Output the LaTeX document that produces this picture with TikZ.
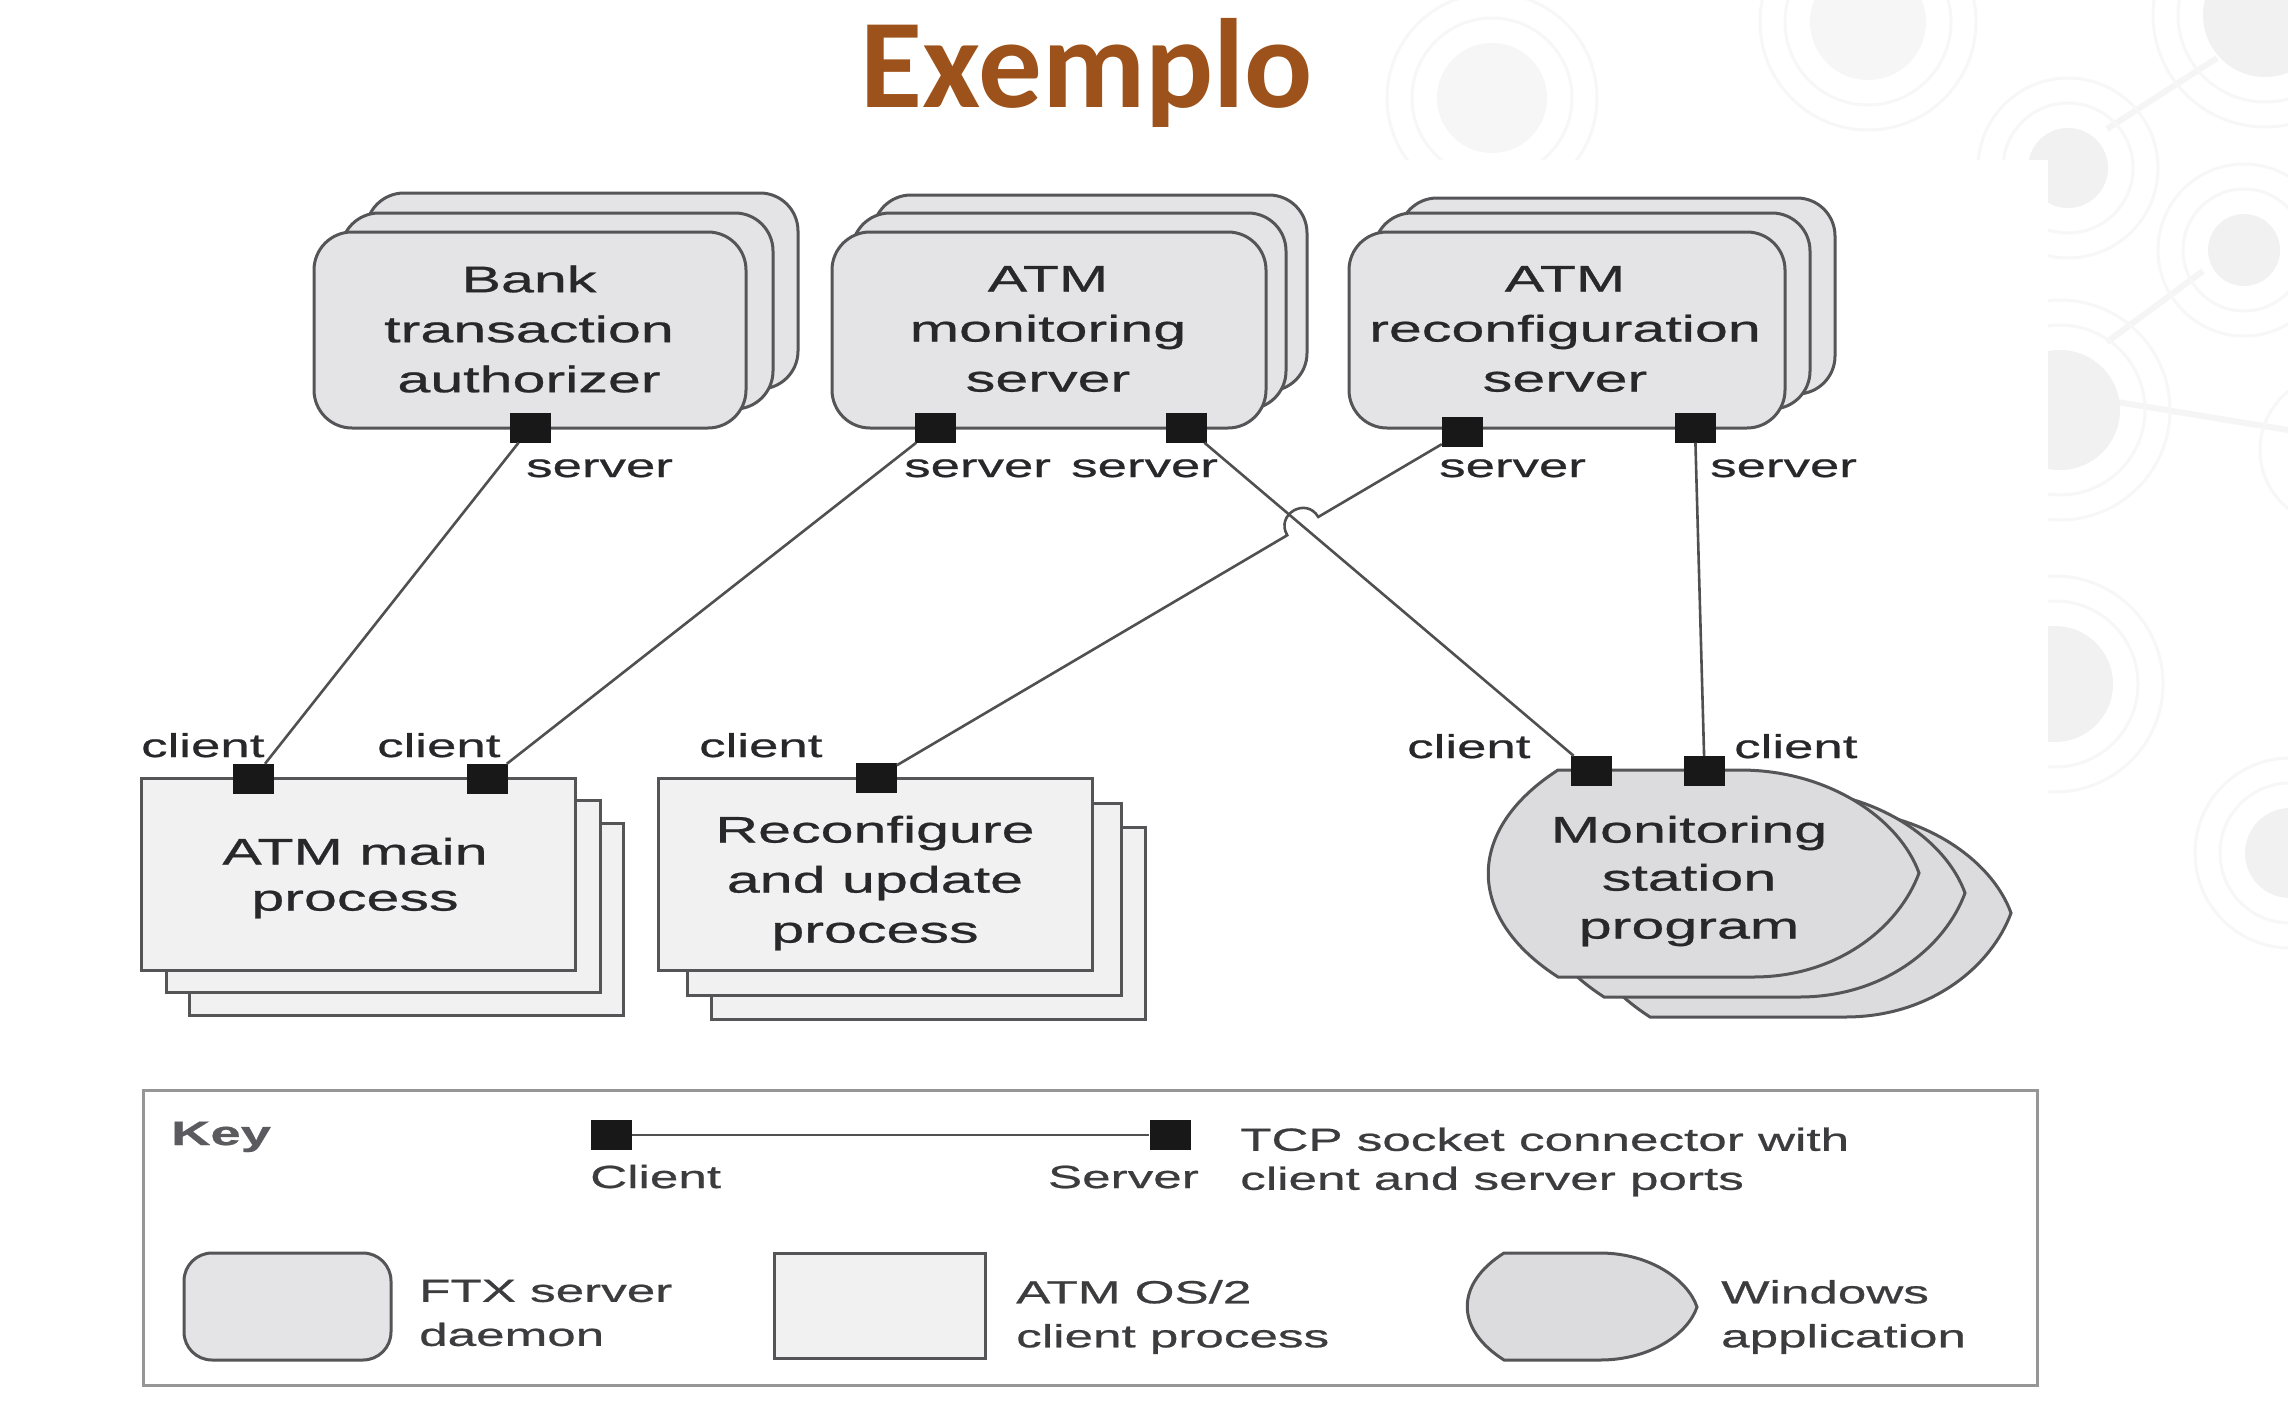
\documentclass[tikz,border=0pt]{standalone}
\usepackage{fontspec}
\usetikzlibrary{calc}
\newfontfamily\hv[FakeStretch=1.6,FakeBold=0.7]{Liberation Sans}
\newfontfamily\ttlfont{Carlito}
\definecolor{titleC}{RGB}{156,82,26}
\definecolor{edgeC}{RGB}{85,85,88}
\definecolor{lineC}{RGB}{80,80,80}
\definecolor{srvF}{RGB}{228,228,231}
\definecolor{cliF}{RGB}{241,241,241}
\definecolor{winF}{RGB}{220,220,223}
\definecolor{portC}{RGB}{24,24,24}
\definecolor{txtC}{RGB}{40,40,43}
\definecolor{legT}{RGB}{60,60,62}
\definecolor{keyC}{RGB}{150,150,150}
\definecolor{keyT}{RGB}{90,90,95}
\definecolor{bgF}{RGB}{241,241,241}
\definecolor{bgFa}{RGB}{246,246,246}
\definecolor{bgR}{RGB}{247,247,247}
\definecolor{bgL}{RGB}{245,245,245}
\begin{document}
\begin{tikzpicture}[x=1pt,y=-1pt,
 conn/.style={draw=lineC, line width=2.6pt},
 srvbox/.style={draw=edgeC, line width=3pt, fill=srvF, rounded corners=38pt},
 clibox/.style={draw=edgeC, line width=3pt, fill=cliF},
 winbox/.style={draw=edgeC, line width=3pt, fill=winF},
 portbox/.style={fill=portC, inner sep=0pt, minimum width=41pt, minimum height=30pt},
 plbl/.style={font=\hv\fontsize{33}{40}\selectfont, text=txtC, inner sep=0pt, anchor=base west},
 btxt/.style={font=\hv\fontsize{37}{50}\selectfont, text=txtC, inner sep=0pt, align=center},
 ktxt/.style={font=\hv\fontsize{32}{44}\selectfont, text=legT, inner sep=0pt, align=left, anchor=west},
 bgring/.style={draw=bgR, line width=3pt},
 bgline/.style={draw=bgL, line width=6pt}]
\useasboundingbox (0,0) rectangle (2288,1414);
\fill[white] (0,0) rectangle (2288,1414);
% faint background pattern
\draw[bgline] (2107,129) -- (2217,58);
\draw[bgline] (2203,271) -- (2107,342);
\draw[bgline] (2105,400) -- (2288,430);
\foreach \cx/\cy/\r/\cf in {1492/98/55/bgFa, 1868/22/58/bgFa, 2265/15/62/bgF, 2068/168/40/bgF, 2244/250/36/bgF, 2060/410/60/bgF, 2055/684/58/bgF, 2290/853/45/bgF}{
  \fill[\cf] (\cx,\cy) circle[radius=\r];
  \draw[bgring] (\cx,\cy) circle[radius=\r+25];
  \draw[bgring] (\cx,\cy) circle[radius=\r+50];
}
\draw[bgring] (2335,450) circle[radius=75];
\fill[white] (0,160) rectangle (2048,1414);
% title
\node[font=\ttlfont\bfseries\fontsize{127}{140}\selectfont, text=titleC, anchor=base, inner sep=0pt] (title) at (1087,107) {Exemplo};
% top server boxes (stacked)
\draw[srvbox] (366,193) rectangle (798,389);
\draw[srvbox] (341,213) rectangle (773,409);
\node[srvbox, minimum width=432pt, minimum height=196pt] (bta) at (530,330) {};
\draw[srvbox] (873,195) rectangle (1307,391);
\draw[srvbox] (852,213) rectangle (1286,409);
\node[srvbox, minimum width=434pt, minimum height=196pt] (ams) at (1049,330) {};
\draw[srvbox] (1399,198) rectangle (1835,394);
\draw[srvbox] (1374,213) rectangle (1810,409);
\node[srvbox, minimum width=436pt, minimum height=196pt] (ars) at (1567,330) {};
\node[btxt] (bta-t) at (529,329) {Bank\\transaction\\authorizer};
\node[btxt] (ams-t) at (1048,329) {ATM\\monitoring\\server};
\node[btxt] (ars-t) at (1565,329) {ATM\\reconfiguration\\server};
% bottom client boxes
\draw[clibox] (189,823) rectangle (623,1015);
\draw[clibox] (166,800) rectangle (600,992);
\node[clibox, minimum width=434pt, minimum height=192pt] (amp) at (358,874) {};
\draw[clibox] (711,827) rectangle (1145,1019);
\draw[clibox] (687,803) rectangle (1121,995);
\node[clibox, minimum width=434pt, minimum height=192pt] (rup) at (875,874) {};
\node[btxt, font=\hv\fontsize{37}{46}\selectfont] (amp-t) at (355,878) {ATM main\\process};
\node[btxt] (rup-t) at (875,883) {Reconfigure\\and update\\process};
% windows application (stacked)
\foreach \dx/\dy in {92/40,46/20,0/0}{
  \draw[winbox, shift={(\dx,\dy)}] (1558,770) -- (1740,770) .. controls (1830,770) and (1900,820) .. (1919,873) .. controls (1900,925) and (1840,977) .. (1753,977) -- (1558,977) .. controls (1465,917) and (1465,830) .. cycle;
}
\node[btxt, font=\hv\fontsize{37}{48}\selectfont] (msp-t) at (1689,881) {Monitoring\\station\\program};
% ports
\node[portbox] (bta-s) at (530.5,427.5) {};
\node[portbox] (ams-s1) at (935.5,427.5) {};
\node[portbox] (ams-s2) at (1186.5,427.5) {};
\node[portbox] (ars-s1) at (1462.5,432) {};
\node[portbox] (ars-s2) at (1695,427.5) {};
\node[portbox] (amp-c1) at (253,779) {};
\node[portbox] (amp-c2) at (487.5,779) {};
\node[portbox] (rup-c) at (876,777.5) {};
\node[portbox] (msp-c1) at (1591.5,771) {};
\node[portbox] (msp-c2) at (1704.5,771) {};
% connectors
\draw[conn] (bta-s) -- (amp-c1);
\draw[conn] (ams-s1) -- (amp-c2);
\draw[conn] (ams-s2) -- (msp-c1);
\draw[conn] (ars-s2) -- (msp-c2);
\coordinate (X) at (intersection cs: first line={(ams-s2)--(msp-c1)}, second line={(ars-s1)--(rup-c)});
\coordinate (h1) at ($(X)!18pt!(rup-c)$);
\coordinate (h2) at ($(X)!18pt!(ars-s1)$);
\draw[conn] (rup-c) -- (h1) .. controls ($(h1)!24pt!90:(X)$) and ($(h2)!24pt!-90:(X)$) .. (h2) -- (ars-s1);
% port labels
\node[plbl] (l1) at (526,477) {server};
\node[plbl] (l2) at (904,477) {server};
\node[plbl] (l3) at (1071,477) {server};
\node[plbl] (l4) at (1439,477) {server};
\node[plbl] (l5) at (1710,477) {server};
\node[plbl] (l6) at (141,757) {client};
\node[plbl] (l7) at (377,757) {client};
\node[plbl] (l8) at (699,757) {client};
\node[plbl] (l9) at (1407,758) {client};
\node[plbl] (l10) at (1734,758) {client};
% key
\node[draw=keyC, line width=3pt, fill=white, minimum width=1894pt, minimum height=295pt, inner sep=0pt] (keybox) at (1090,1237.5) {};
\node[font=\hv\bfseries\fontsize{34}{40}\selectfont, text=keyT, inner sep=0pt, anchor=base west] (keyt) at (171,1145) {Key};
\node[portbox] (kc) at (611,1135) {};
\node[portbox] (ks) at (1170,1135) {};
\draw[conn] (kc) -- (ks);
\node[ktxt, anchor=base west] (kcl) at (590,1188) {Client};
\node[ktxt, anchor=base east] (ksl) at (1199,1188) {Server};
\node[ktxt, font=\hv\fontsize{32}{39}\selectfont] (ktcp) at (1240,1162) {TCP socket connector with\\client and server ports};
\node[srvbox, rounded corners=28pt, minimum width=207pt, minimum height=107pt] (kftx) at (287.5,1306.5) {};
\node[ktxt] (kftxt) at (419,1313) {FTX server\\daemon};
\node[clibox, minimum width=211pt, minimum height=105pt] (kos) at (879.5,1305.5) {};
\node[ktxt] (kost) at (1016,1317) {ATM OS/2\\client process};
\draw[winbox] (1504,1253) -- (1600,1253) .. controls (1650,1253) and (1688,1280) .. (1697,1307) .. controls (1688,1334) and (1650,1360) .. (1600,1360) -- (1504,1360) .. controls (1455,1329) and (1455,1284) .. cycle;
\node[ktxt] (kwint) at (1721,1317) {Windows\\application};
\end{tikzpicture}
\end{document}
